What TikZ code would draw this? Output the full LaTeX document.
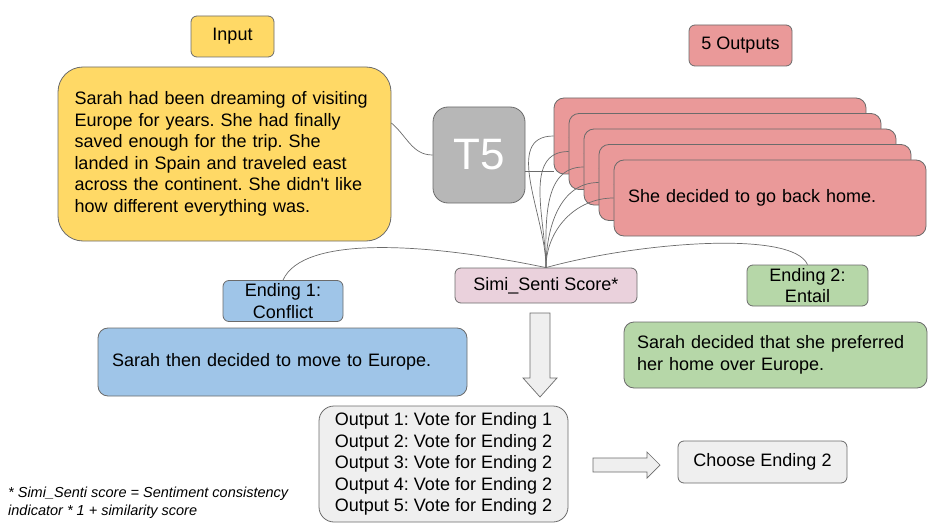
\documentclass[tikz,border=0pt]{standalone}
\usepackage{fontspec}
\setmainfont{Liberation Sans}
\usepackage{tikz}
\usetikzlibrary{arrows}
\usetikzlibrary{shapes}
\usetikzlibrary{calc}
\frenchspacing
\definecolor{InYellow}{HTML}{FFD966}
\definecolor{ModelGray}{HTML}{B7B7B7}
\definecolor{OutRed}{HTML}{EA9999}
\definecolor{ScorePink}{HTML}{EAD1DC}
\definecolor{EndBlue}{HTML}{9FC5E8}
\definecolor{EndGreen}{HTML}{B6D7A8}
\definecolor{VoteGray}{HTML}{EFEFEF}
\definecolor{LineGray}{HTML}{6B6B6B}
\tikzstyle{BoxNode}=[rectangle, rounded corners=6pt, draw=LineGray, line width=0.8pt, inner sep=0pt, align=center, font=\fontsize{18}{21.5}\selectfont]
\tikzstyle{LabelNode}=[BoxNode, minimum height=41pt]
\tikzstyle{InputNode}=[LabelNode, fill=InYellow, minimum width=83pt]
\tikzstyle{StoryNode}=[BoxNode, fill=InYellow, rounded corners=25pt, minimum width=333pt, minimum height=174pt, text width=300pt, align=left]
\tikzstyle{ModelNode}=[BoxNode, fill=ModelGray, rounded corners=15pt, minimum width=92pt, minimum height=96pt, text=white, font=\fontsize{44}{44}\selectfont]
\tikzstyle{OutLabelNode}=[LabelNode, fill=OutRed, minimum width=103pt]
\tikzstyle{OutNode}=[BoxNode, fill=OutRed, rounded corners=10pt, minimum width=312pt, minimum height=76pt, text width=284pt, align=left]
\tikzstyle{ScoreNode}=[BoxNode, fill=ScorePink, minimum width=182pt, minimum height=35pt]
\tikzstyle{EndLabelNode}=[LabelNode, minimum width=120pt]
\tikzstyle{EndNode}=[BoxNode, rounded corners=10pt, align=left]
\tikzstyle{VoteNode}=[BoxNode, fill=VoteGray, rounded corners=15pt, minimum width=249pt, minimum height=116pt, align=left]
\tikzstyle{ChoiceNode}=[LabelNode, fill=VoteGray, minimum width=169pt, minimum height=42pt]
\tikzstyle{NoteNode}=[inner sep=0pt, align=left, font=\fontsize{14.5}{18}\selectfont\itshape]
\tikzstyle{Edge}=[draw=LineGray, line width=0.7pt]
\tikzstyle{BlockArrow}=[draw=LineGray, fill=VoteGray, line width=0.7pt, line join=miter]

\begin{document}
\begin{tikzpicture}[x=1pt, y=-1pt]
\useasboundingbox (0,0) rectangle (932,524);

\node[InputNode](Input) at (232.5,36.5) {Input};
\node[StoryNode](Story) at (224.5,154) {Sarah had been dreaming of visiting\\Europe for years. She had finally\\saved enough for the trip. She\\landed in Spain and traveled east\\across the continent. She didn\textquotesingle t like\\how different everything was.};
\node[ModelNode](T5) at (479,155) {T5};
\node[OutLabelNode](OutLabel) at (740.5,45.5) {5 Outputs};

\draw[Edge]([yshift=31pt]Story.east) to[out=-40, in=180] (T5.west);
\draw[Edge]([yshift=-16pt]T5.east) -- ([yshift=-16pt]T5.east -| 554,0);

\node[OutNode](Out1) at (710,136) {She decided to go back home.};
\node[OutNode](Out2) at (725,151.5) {She decided to go back home.};
\node[OutNode](Out3) at (740,167) {She decided to go back home.};
\node[OutNode](Out4) at (755,182.5) {She decided to go back home.};
\node[OutNode](Out5) at (770,198) {She decided to go back home.};

\node[ScoreNode](Simi) at (546,285.5) {Simi\_Senti Score*};
\node[EndLabelNode, fill=EndBlue](End1) at (283,301) {Ending 1:\\Conflict};
\node[EndLabelNode, fill=EndGreen, minimum width=121pt](End2) at (807.5,285.5) {Ending 2:\\Entail};
\node[EndNode, fill=EndBlue, minimum width=369pt, minimum height=68pt, text width=341pt](EndText1) at (282.5,362) {Sarah then decided to move to Europe.};
\node[EndNode, fill=EndGreen, minimum width=303pt, minimum height=66pt, text width=277pt](EndText2) at (775.5,355) {Sarah decided that she preferred\\her home over Europe.};

\draw[Edge](Simi.north) to[out=90, in=180] (Out1.west);
\draw[Edge](Simi.north) to[out=90, in=180] (Out2.west);
\draw[Edge](Simi.north) to[out=90, in=180] (Out3.west);
\draw[Edge](Simi.north) to[out=90, in=180] (Out4.west);
\draw[Edge](Simi.north) to[out=90, in=180] (Out5.west);
\draw[Edge](End1.north) .. controls +(20,-45) and +(-120,-25) .. (Simi.north);
\draw[Edge](Simi.north) .. controls +(90,-25) and +(-15,-35) .. (End2.north);

\node[VoteNode](Votes) at (443.5,464) {Output 1: Vote for Ending 1\\Output 2: Vote for Ending 2\\Output 3: Vote for Ending 2\\Output 4: Vote for Ending 2\\Output 5: Vote for Ending 2};
\node[ChoiceNode](Choice) at (762.5,462) {Choose Ending 2};

\draw[BlockArrow] (530,313) -- (550,313) -- (550,378) -- (557,378) -- (540,397) -- (523,378) -- (530,378) -- cycle;
\draw[BlockArrow] (593,458) -- (647,458) -- (647,452) -- (660,465) -- (647,478) -- (647,472) -- (593,472) -- cycle;

\node[NoteNode, anchor=north west](Note) at (8,487) {* Simi\_Senti score = Sentiment consistency\\indicator * 1 + similarity score};
\end{tikzpicture}
\end{document}
